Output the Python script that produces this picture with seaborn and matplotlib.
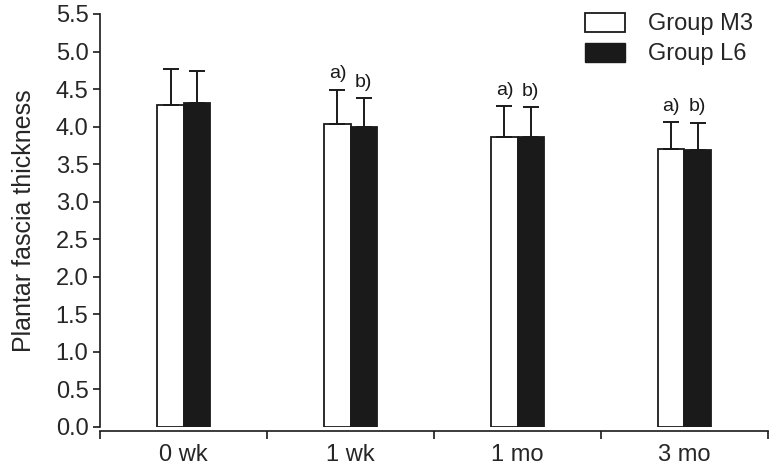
import pandas as pd
import numpy as np
import seaborn as sns
import matplotlib.pyplot as plt
from matplotlib.patches import Patch

times = ["0 wk", "1 wk", "1 mo", "3 mo"]
groups = ["Group M3", "Group L6"]
m3_mean = [4.29, 4.03, 3.86, 3.70]
l6_mean = [4.31, 3.99, 3.86, 3.69]
m3_sd = [0.48, 0.46, 0.41, 0.36]
l6_sd = [0.43, 0.39, 0.40, 0.36]
m3_marks = ["", "a)", "a)", "a)"]
l6_marks = ["", "b)", "b)", "b)"]

df = pd.DataFrame({
    "time": times * 2,
    "group": [groups[0]] * 4 + [groups[1]] * 4,
    "value": m3_mean + l6_mean,
    "sd": m3_sd + l6_sd,
    "mark": m3_marks + l6_marks,
})

sns.set_style("ticks")
plt.rcParams["font.family"] = ["Liberation Sans", "DejaVu Sans"]

fig = plt.figure(figsize=(7.71, 4.66), dpi=100)
ax = fig.add_axes([0.13, 0.084, 0.866, 0.886])

sns.barplot(data=df, x="time", y="value", hue="group", order=times,
            hue_order=groups, palette={"Group M3": "white", "Group L6": "#1a1a1a"},
            edgecolor="#1a1a1a", linewidth=1.3, width=0.315, errorbar=None,
            legend=False, ax=ax)

for cont, g in zip(ax.containers, groups):
    sub = df[df["group"] == g].set_index("time").loc[times]
    for bar, (_, row) in zip(cont, sub.iterrows()):
        xc = bar.get_x() + bar.get_width() / 2
        top = bar.get_height()
        ax.errorbar(xc, top, yerr=[[0], [row["sd"]]], fmt="none",
                    ecolor="#1a1a1a", elinewidth=1.4, capsize=6, capthick=1.4)
        if row["mark"]:
            ax.text(xc, top + row["sd"] + 0.1, row["mark"], ha="center",
                    va="bottom", fontsize=14, color="#1a1a1a")

ax.set_xlim(-0.5, 3.5)
ax.set_ylim(0, 5.5)
ax.set_yticks(np.arange(0, 5.51, 0.5))
ax.set_yticklabels([f"{v:.1f}" for v in np.arange(0, 5.51, 0.5)])
ax.set_xticks(range(len(times)))
ax.set_xticklabels(times)
ax.set_xticks(np.arange(-0.5, 3.6, 1), minor=True)
ax.tick_params(axis="x", which="major", length=0, labelsize=17, pad=9)
ax.tick_params(axis="x", which="minor", length=6, width=1.2, color="#1a1a1a")
ax.tick_params(axis="y", length=5, width=1.2, labelsize=17, color="#1a1a1a")
ax.set_xlabel("")
ax.set_ylabel("Plantar fascia thickness", fontsize=18, labelpad=14)

sns.despine(ax=ax)
ax.spines["bottom"].set_position(("outward", 3))
for s in ["left", "bottom"]:
    ax.spines[s].set_linewidth(1.2)
    ax.spines[s].set_color("#1a1a1a")

handles = [Patch(facecolor="white", edgecolor="#1a1a1a", linewidth=1.3),
           Patch(facecolor="#1a1a1a", edgecolor="#1a1a1a")]
ax.legend(handles, groups, loc="upper right", bbox_to_anchor=(1.01, 1.055),
          frameon=False, fontsize=17, handlelength=1.7, handleheight=0.9,
          labelspacing=0.3, handletextpad=1.0)

fig.savefig("out.png", dpi=100)
